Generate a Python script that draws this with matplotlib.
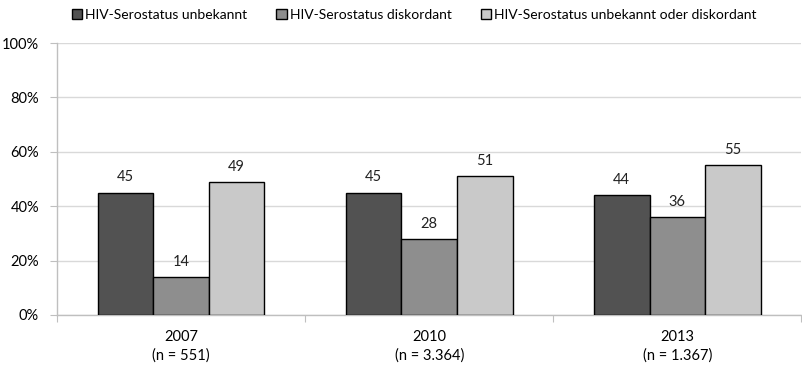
import matplotlib
matplotlib.use("Agg")
import matplotlib.pyplot as plt
import numpy as np

plt.rcParams['font.family'] = ['Lato', 'DejaVu Sans']

categories = ["2007\n(n = 551)", "2010\n(n = 3.364)", "2013\n(n = 1.367)"]
series_names = ["HIV-Serostatus unbekannt", "HIV-Serostatus diskordant",
                "HIV-Serostatus unbekannt oder diskordant"]
unbekannt = [45, 45, 44]
diskordant = [14, 28, 36]
beides = [49, 51, 55]
values = [unbekannt, diskordant, beides]
colors = ["#525252", "#8e8e8e", "#c9c9c9"]
yticks = [0, 20, 40, 60, 80, 100]
ytick_labels = ["0%", "20%", "40%", "60%", "80%", "100%"]

fig = plt.figure(figsize=(8.03, 3.65), dpi=100)
ax = fig.add_axes([0.071, 0.137, 0.927, 0.745])

x = np.arange(len(categories))
w = 0.224
for i, (name, vals, c) in enumerate(zip(series_names, values, colors)):
    pos = x + (i - 1) * w
    ax.bar(pos, vals, w, color=c, edgecolor="black", linewidth=1.0,
           label=name, zorder=3)
    for p, v in zip(pos, vals):
        ax.text(p, v + 3, str(v), ha="center", va="bottom", fontsize=10.5,
                color="#222222")

ax.set_xlim(-0.5, 2.5)
ax.set_ylim(0, 100)
ax.set_yticks(yticks)
ax.set_yticklabels(ytick_labels, fontsize=10.5)
ax.yaxis.grid(True, color="#d9d9d9", linewidth=1.0, zorder=0)
ax.set_axisbelow(True)

ax.set_xticks([-0.5, 0.5, 1.5, 2.5])
ax.set_xticklabels([])
ax.set_xticks(x, minor=True)
ax.set_xticklabels(categories, minor=True, fontsize=10.5, linespacing=1.35)
ax.tick_params(axis="x", which="minor", length=0, pad=11)
ax.tick_params(axis="x", which="major", length=5, color="#bfbfbf")
ax.tick_params(axis="y", length=5, color="#bfbfbf", pad=8)
for s in ["top", "right"]:
    ax.spines[s].set_visible(False)
for s in ["left", "bottom"]:
    ax.spines[s].set_color("#bfbfbf")
    ax.spines[s].set_linewidth(1.0)

leg = fig.legend(loc="upper left", bbox_to_anchor=(0.074, 1.01), ncol=3,
                 frameon=False, fontsize=10, handlelength=0.75, handleheight=0.75,
                 handletextpad=0.2, columnspacing=2.1)
for h in leg.legend_handles:
    h.set_linewidth(1.0)

fig.savefig("out.png", dpi=100)
